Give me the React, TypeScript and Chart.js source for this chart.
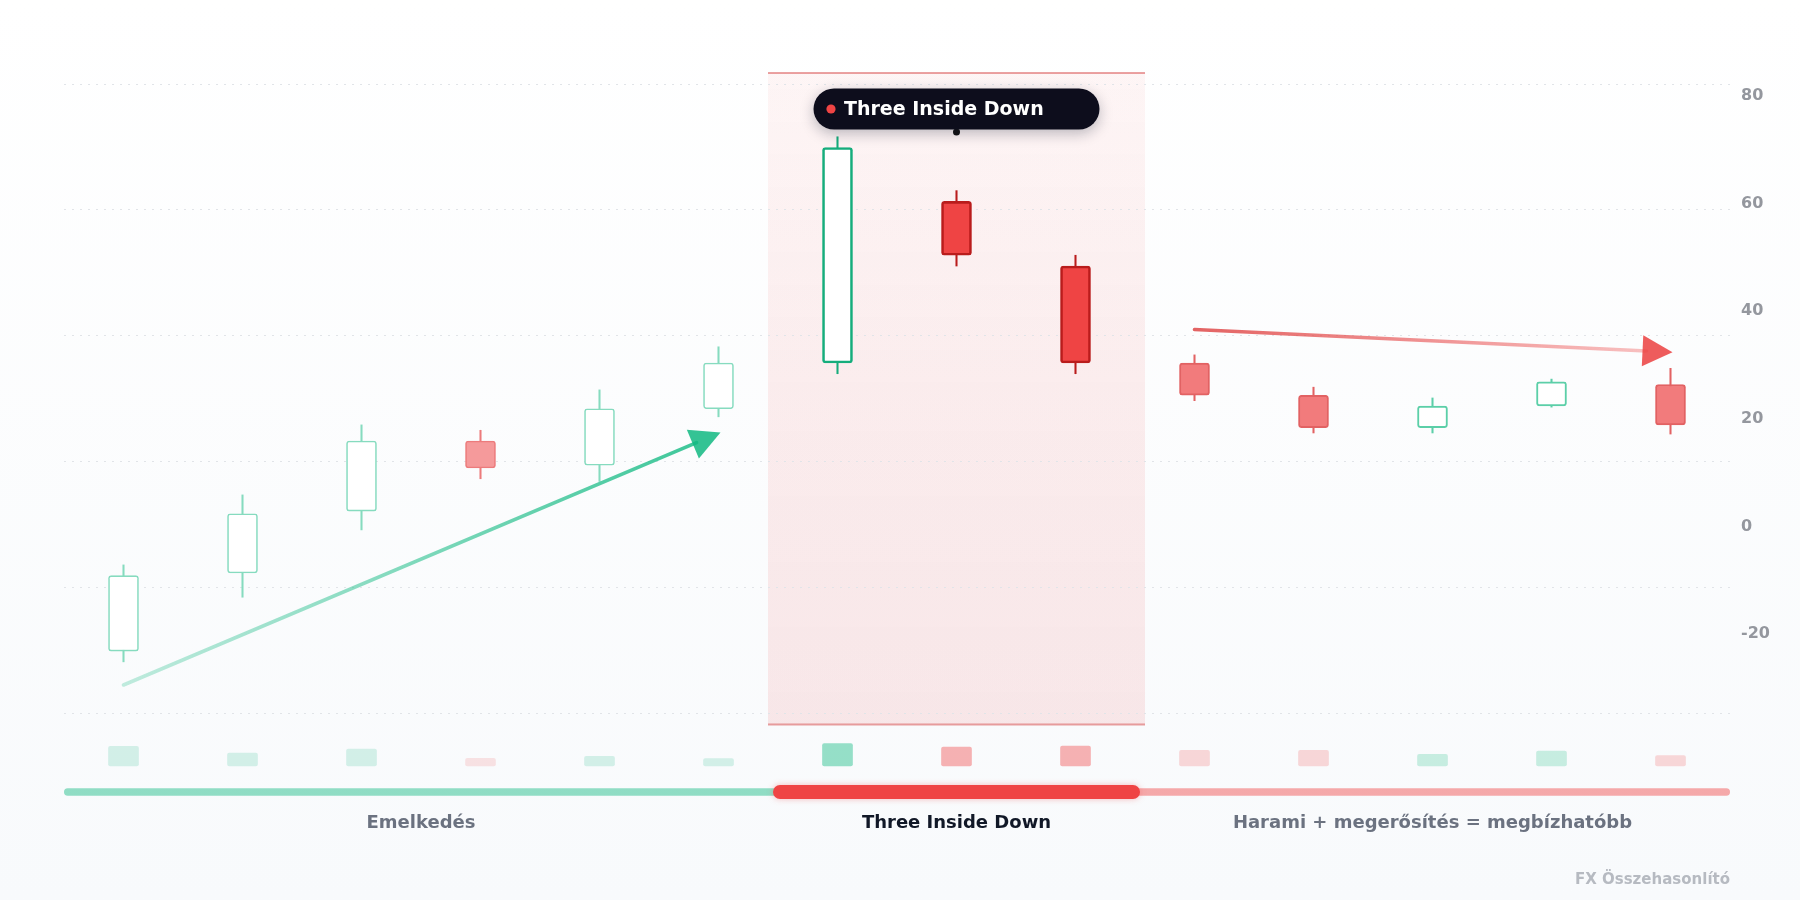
import React, { useEffect, useRef } from 'react';
import { Chart, registerables } from 'chart.js';

Chart.register(...registerables);

// ---------- data ----------
const candleLabels = ['1', '2', '3', '4', '5', '6', '7', '8', '9', '10', '11', '12', '13', '14'];
const opens = [-23.5, -9, 2.5, 15.5, 11, 21.5, 30, 60, 48, 30, 24, 18, 22, 26];
const highs = [-7.5, 5.5, 18.5, 17.5, 25, 33, 72, 62, 50, 31.5, 25.5, 23.5, 27, 29];
const lows = [-25.5, -13.5, -1, 8.5, 8, 20, 28, 48, 28, 23, 17, 17, 21.8, 16.8];
const closes = [-9.5, 2, 15.5, 10.5, 21.5, 30, 70, 50, 30, 24, 18, 22, 26.5, 18.5];
const volumes = [98, 64, 84, 38, 48, 37, 112, 95, 100, 78, 78, 58, 74, 52];

const priceTicks = [-20, 0, 20, 40, 60, 80];
const priceMin = -35;
const priceMax = 81.8;

const phaseNames = ['Emelkedés', 'Three Inside Down', 'Harami + megerősítés = megbízhatóbb'];
const phaseStart = [0, 6, 9];
const phaseEnd = [5, 8, 13];
const patternPhase = 1;

const tooltipText = 'Three Inside Down';
const tooltipIndex = 7;

// arrows: [categoryIndex, value]
const upArrowFrom = [0, -29.8];
const upArrowTo = [5, 17.1];
const downArrowFrom = [9, 36.2];
const downArrowTo = [13, 32.0];

const watermark = 'FX Összehasonlító';

// ---------- styles ----------
const FONT = '"DejaVu Sans", sans-serif';

function phaseOf(i: number) {
  for (let p = 0; p < phaseStart.length; p++) if (i >= phaseStart[p] && i <= phaseEnd[p]) return p;
  return 0;
}

const bodyStyle = {
  bull: [
    { bg: '#ffffff', border: '#86dbbf', width: 1.6 },
    { bg: '#ffffff', border: '#15ad7c', width: 2.6 },
    { bg: '#ffffff', border: '#5ccfa8', width: 2 },
  ],
  bear: [
    { bg: '#f59a9b', border: '#ec7b7c', width: 1.6 },
    { bg: '#ef4444', border: '#b91c1c', width: 2.6 },
    { bg: '#f27b7c', border: '#e26263', width: 2 },
  ],
};
const volColors = {
  bull: ['rgba(16,185,129,0.17)', 'rgba(16,185,129,0.43)', 'rgba(16,185,129,0.22)'],
  bear: ['rgba(239,68,68,0.14)', 'rgba(239,68,68,0.4)', 'rgba(239,68,68,0.2)'],
};
const wickWidth = [1.4, 2, 1.6];

function styleOf(i: number) {
  const p = phaseOf(i);
  const bull = closes[i] >= opens[i];
  return bull ? bodyStyle.bull[p] : bodyStyle.bear[p];
}

function drawArrow(ctx: CanvasRenderingContext2D, x1: number, y1: number, x2: number, y2: number,
  c0: string, c1: string, head: string) {
  const ang = Math.atan2(y2 - y1, x2 - x1);
  const cos = Math.cos(ang), sin = Math.sin(ang);
  const hl = 30, hw = 15.5;
  const bx = x2 - hl * cos, by = y2 - hl * sin;
  ctx.save();
  const g = ctx.createLinearGradient(x1, y1, x2, y2);
  g.addColorStop(0, c0);
  g.addColorStop(1, c1);
  ctx.strokeStyle = g;
  ctx.lineWidth = 3.6;
  ctx.lineCap = 'round';
  ctx.beginPath();
  ctx.moveTo(x1, y1);
  ctx.lineTo(bx + 4 * cos, by + 4 * sin);
  ctx.stroke();
  ctx.fillStyle = head;
  ctx.beginPath();
  ctx.moveTo(x2, y2);
  ctx.lineTo(bx - hw * sin, by + hw * cos);
  ctx.lineTo(bx + hw * sin, by - hw * cos);
  ctx.closePath();
  ctx.fill();
  ctx.restore();
}

const bandPlugin = {
  id: 'band',
  beforeDraw(chart: any) {
    const { ctx, chartArea } = chart;
    const x = chart.scales.x;
    const half = (x.getPixelForValue(1) - x.getPixelForValue(0)) / 2;
    const left = x.getPixelForValue(phaseStart[patternPhase]) - half - 10;
    const right = x.getPixelForValue(phaseEnd[patternPhase]) + half + 10;
    const t = chartArea.top - 11;
    const b = chartArea.bottom + 11.5;
    ctx.save();
    const g = ctx.createLinearGradient(0, t, 0, b);
    g.addColorStop(0, 'rgba(239,68,68,0.05)');
    g.addColorStop(0.5, 'rgba(239,68,68,0.09)');
    g.addColorStop(1, 'rgba(239,68,68,0.11)');
    ctx.fillStyle = g;
    ctx.fillRect(left, t, right - left, b - t);
    ctx.strokeStyle = 'rgba(214,70,70,0.5)';
    ctx.lineWidth = 2;
    ctx.beginPath();
    ctx.moveTo(left, t);
    ctx.lineTo(right, t);
    ctx.moveTo(left, b);
    ctx.lineTo(right, b);
    ctx.stroke();
    ctx.restore();
  },
};

const overlayPlugin = {
  id: 'overlay',
  afterDatasetsDraw(chart: any) {
    const { ctx, chartArea } = chart;
    const x = chart.scales.x;
    const y = chart.scales.y;
    drawArrow(ctx,
      x.getPixelForValue(upArrowFrom[0]), y.getPixelForValue(upArrowFrom[1]),
      x.getPixelForValue(upArrowTo[0]) + 2, y.getPixelForValue(upArrowTo[1]),
      'rgba(16,185,129,0.25)', 'rgba(16,185,129,0.82)', 'rgba(16,185,129,0.85)');
    drawArrow(ctx,
      x.getPixelForValue(downArrowFrom[0]), y.getPixelForValue(downArrowFrom[1]),
      x.getPixelForValue(downArrowTo[0]) + 2, y.getPixelForValue(downArrowTo[1]),
      'rgba(222,72,72,0.85)', 'rgba(239,68,68,0.3)', 'rgba(236,70,70,0.88)');

    // tooltip pill
    const cx = x.getPixelForValue(tooltipIndex);
    const w = 286, h = 41;
    const left = cx - w / 2;
    const top = chartArea.top + 4.5;
    ctx.save();
    ctx.fillStyle = '#111111';
    ctx.beginPath();
    ctx.arc(cx, top + h + 2.5, 3.5, 0, Math.PI * 2);
    ctx.fill();
    ctx.shadowColor = 'rgba(15,23,42,0.28)';
    ctx.shadowBlur = 14;
    ctx.shadowOffsetY = 4;
    ctx.fillStyle = '#0d0d1c';
    ctx.beginPath();
    ctx.roundRect(left, top, w, h, h / 2);
    ctx.fill();
    ctx.shadowColor = 'transparent';
    ctx.fillStyle = '#ef4444';
    ctx.beginPath();
    ctx.arc(left + 17.5, top + h / 2, 4.6, 0, Math.PI * 2);
    ctx.fill();
    ctx.fillStyle = '#ffffff';
    ctx.font = `bold 19px ${FONT}`;
    ctx.textAlign = 'left';
    ctx.textBaseline = 'middle';
    ctx.fillText(tooltipText, left + 30.5, top + h / 2 + 1);
    ctx.restore();
  },
};

const bottomPlugin = {
  id: 'bottom',
  afterDraw(chart: any) {
    const { ctx, chartArea } = chart;
    const x = chart.scales.x;
    const half = (x.getPixelForValue(1) - x.getPixelForValue(0)) / 2;
    const yBar = chartArea.bottom + 79;
    const yLabel = chartArea.bottom + 110.5;
    const segColors = ['rgba(16,185,129,0.45)', '#ef4444', 'rgba(239,68,68,0.45)'];
    ctx.save();
    const segs = phaseNames.map((_, p) => {
      const l = p === 0 ? chartArea.left : x.getPixelForValue(phaseStart[p]) - half;
      const r = p === phaseNames.length - 1 ? chartArea.right : x.getPixelForValue(phaseEnd[p]) + half;
      return [l, r];
    });
    segs.forEach(([l, r], p) => {
      if (p === patternPhase) return;
      ctx.fillStyle = segColors[p];
      ctx.beginPath();
      ctx.roundRect(l, yBar - 3.75, r - l, 7.5, 3.75);
      ctx.fill();
    });
    {
      const [l, r] = segs[patternPhase];
      ctx.shadowColor = 'rgba(239,68,68,0.35)';
      ctx.shadowBlur = 6;
      ctx.fillStyle = segColors[patternPhase];
      ctx.beginPath();
      ctx.roundRect(l - 5, yBar - 7, r - l + 10, 14, 7);
      ctx.fill();
      ctx.shadowColor = 'transparent';
    }
    ctx.font = `bold 18px ${FONT}`;
    ctx.textAlign = 'center';
    ctx.textBaseline = 'middle';
    segs.forEach(([l, r], p) => {
      ctx.fillStyle = p === patternPhase ? '#111827' : '#6b7280';
      ctx.fillText(phaseNames[p], (l + r) / 2, yLabel);
    });
    ctx.font = `bold 15px ${FONT}`;
    ctx.textAlign = 'right';
    ctx.fillStyle = '#b6bac1';
    ctx.fillText(watermark, chartArea.right, chartArea.bottom + 167);
    ctx.restore();
  },
};

export default function App() {
  const ref = useRef<HTMLCanvasElement>(null);

  useEffect(() => {
    if (!ref.current) return;
    const bodies = candleLabels.map((_, i) => [opens[i], closes[i]]);
    const wicks = candleLabels.map((_, i) => [lows[i], highs[i]]);
    const vols = candleLabels.map((_, i) => [0, volumes[i]]);
    const chart = new Chart(ref.current, {
      type: 'bar',
      data: {
        labels: candleLabels,
        datasets: [
          {
            label: 'body',
            data: bodies as any,
            yAxisID: 'y',
            order: 0,
            grouped: false,
            barThickness: 30,
            backgroundColor: candleLabels.map((_, i) => styleOf(i).bg),
            borderColor: candleLabels.map((_, i) => styleOf(i).border),
            borderWidth: candleLabels.map((_, i) => styleOf(i).width),
            borderRadius: 3,
            borderSkipped: false,
          },
          {
            label: 'wick',
            data: wicks as any,
            yAxisID: 'y',
            order: 1,
            grouped: false,
            barThickness: candleLabels.map((_, i) => wickWidth[phaseOf(i)]) as any,
            backgroundColor: candleLabels.map((_, i) => styleOf(i).border),
            borderWidth: 0,
          },
          {
            label: 'volume',
            data: vols as any,
            yAxisID: 'yv',
            order: 2,
            grouped: false,
            barThickness: 30,
            clip: false as any,
            backgroundColor: candleLabels.map((_, i) =>
              (closes[i] >= opens[i] ? volColors.bull : volColors.bear)[phaseOf(i)]),
            borderWidth: 0,
            borderRadius: 2,
            borderSkipped: false,
          },
        ],
      },
      options: {
        animation: false,
        responsive: true,
        maintainAspectRatio: false,
        layout: { padding: { left: 64, right: 10, top: 84, bottom: 187 } },
        plugins: { legend: { display: false }, tooltip: { enabled: false } },
        scales: {
          x: { type: 'category', display: false, offset: true },
          yg: {
            position: 'left',
            min: priceMin,
            max: priceMax,
            ticks: { display: false, count: 6 },
            grid: { color: '#e1e4e8', lineWidth: 1, drawTicks: false },
            border: { display: false, dash: [2, 6] },
            afterFit: (s: any) => { s.width = 0; },
          },
          y: {
            position: 'right',
            min: priceMin,
            max: priceMax,
            grid: { display: false, drawTicks: false },
            border: { display: false },
            afterBuildTicks: (s: any) => { s.ticks = priceTicks.map((v) => ({ value: v })); },
            afterFit: (s: any) => { s.width = 60; },
            ticks: {
              padding: 11,
              labelOffset: 2,
              color: '#94979e',
              font: { family: FONT, size: 16, weight: 'bold' },
              callback: (v: any) => String(v),
            },
          },
          yv: {
            display: false,
            min: 265,
            max: 3410,
          },
        },
      } as any,
      plugins: [bandPlugin, overlayPlugin, bottomPlugin],
    });
    return () => chart.destroy();
  }, []);

  return (
    <div
      style={{
        position: 'absolute',
        left: 0,
        top: 0,
        width: 1800,
        height: 900,
        background: 'linear-gradient(180deg, #ffffff 0%, #f8fafc 100%)',
      }}
    >
      <canvas ref={ref} />
    </div>
  );
}
